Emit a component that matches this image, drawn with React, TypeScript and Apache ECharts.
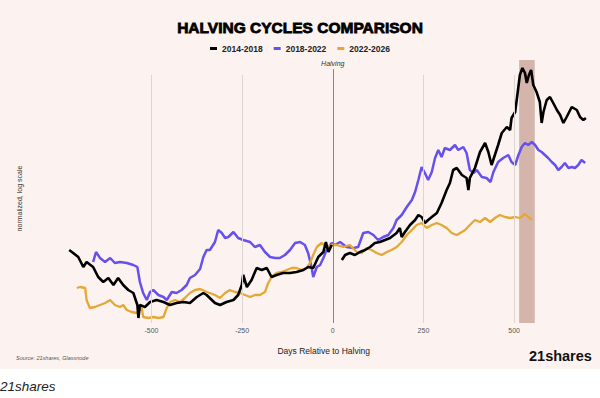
import React, { useEffect, useRef } from "react";
import * as echarts from "echarts";

// Days relative to halving, normalized value (log10, halving = 0)
const cycle2014: [number, number | string][] = [
  [-727, -0.07], [-716, -0.1], [-702, -0.14], [-688, -0.24], [-679, -0.19], [-661, -0.24],
  [-647, -0.34], [-633, -0.39], [-619, -0.35], [-605, -0.42], [-592, -0.35], [-578, -0.42],
  [-564, -0.47], [-550, -0.5], [-539, -0.62], [-536, -0.75], [-532, -0.62], [-518, -0.64],
  [-504, -0.59], [-486, -0.57], [-467, -0.59], [-449, -0.62], [-431, -0.6], [-412, -0.59],
  [-394, -0.6], [-375, -0.54], [-357, -0.5], [-348, -0.52], [-325, -0.6], [-311, -0.62],
  [-293, -0.59], [-274, -0.57], [-261, -0.52], [-251, -0.42], [-247, -0.32], [-237, -0.44],
  [-224, -0.37], [-210, -0.25], [-196, -0.27], [-182, -0.25], [-169, -0.34], [-155, -0.32],
  [-137, -0.3], [-118, -0.3], [-100, -0.29], [-81, -0.27], [-68, -0.24], [-54, -0.25],
  [-40, -0.14], [-26, -0.09], [-19, 0.01], [-12, -0.09], [-3, -0.02], [5, "-"],
  [25, -0.17], [34, -0.12], [47, -0.1], [61, -0.12], [75, -0.09], [89, -0.07], [103, -0.04],
  [116, 0.0], [130, 0.01], [144, 0.03], [158, 0.05], [176, 0.1], [185, 0.15], [190, 0.06],
  [199, 0.11], [213, 0.18], [227, 0.23], [236, 0.28], [245, 0.26], [254, 0.2], [263, 0.23],
  [273, 0.26], [287, 0.3], [300, 0.4], [314, 0.53], [323, 0.6], [332, 0.73], [342, 0.75],
  [356, 0.68], [369, 0.65], [374, 0.53], [378, 0.65], [392, 0.75], [406, 0.91], [420, 1.0],
  [429, 0.91], [438, 0.78], [447, 0.88], [456, 0.98], [466, 1.1], [480, 1.16], [489, 1.13],
  [493, 1.25], [503, 1.31], [509, 1.48], [516, 1.68], [523, 1.75], [530, 1.7], [535, 1.6],
  [541, 1.68], [547, 1.73], [553, 1.58], [562, 1.51], [571, 1.41], [576, 1.2], [581, 1.31],
  [590, 1.43], [599, 1.46], [608, 1.4], [618, 1.33], [627, 1.28], [636, 1.2], [645, 1.26],
  [659, 1.36], [673, 1.33], [682, 1.26], [691, 1.23], [698, 1.25],
];

const cycle2018: [number, number][] = [
  [-661, -0.19], [-653, -0.09], [-642, -0.15], [-628, -0.19], [-614, -0.15], [-601, -0.2],
  [-587, -0.19], [-568, -0.2], [-550, -0.22], [-539, -0.24], [-532, -0.39], [-523, -0.5],
  [-513, -0.57], [-504, -0.49], [-495, -0.47], [-481, -0.52], [-467, -0.54], [-458, -0.57],
  [-444, -0.49], [-431, -0.5], [-417, -0.47], [-403, -0.42], [-394, -0.35], [-380, -0.32],
  [-366, -0.26], [-357, -0.14], [-348, -0.07], [-339, -0.07], [-325, 0.01], [-316, 0.13],
  [-306, 0.1], [-297, 0.05], [-288, 0.06], [-274, 0.11], [-261, 0.05], [-247, 0.03],
  [-228, 0.01], [-215, -0.04], [-201, -0.02], [-187, -0.09], [-173, -0.14], [-159, -0.15],
  [-146, -0.15], [-132, -0.12], [-118, -0.07], [-104, 0.0], [-90, 0.01], [-77, -0.02],
  [-68, -0.1], [-58, -0.25], [-54, -0.34], [-44, -0.24], [-35, -0.22], [-26, -0.15],
  [-17, -0.07], [-3, 0.0], [6, -0.02], [20, 0.01], [38, -0.04], [57, -0.05], [70, -0.04],
  [84, 0.1], [98, 0.11], [112, 0.08], [125, 0.03], [139, 0.06], [153, 0.08], [167, 0.15],
  [176, 0.23], [190, 0.28], [204, 0.36], [218, 0.43], [227, 0.51], [236, 0.63], [245, 0.76],
  [254, 0.7], [263, 0.63], [273, 0.71], [282, 0.85], [291, 0.93], [300, 0.86], [309, 0.95],
  [323, 0.93], [337, 0.98], [346, 0.93], [360, 0.96], [369, 0.9], [378, 0.73], [388, 0.7],
  [397, 0.73], [411, 0.66], [424, 0.65], [435, 0.61], [443, 0.71], [456, 0.81], [470, 0.85],
  [484, 0.88], [493, 0.81], [503, 0.78], [512, 0.88], [521, 0.96], [530, 1.0], [539, 0.98],
  [549, 1.01], [558, 0.98], [567, 0.93], [576, 0.91], [585, 0.88], [594, 0.85], [604, 0.81],
  [613, 0.78], [622, 0.73], [631, 0.76], [640, 0.8], [650, 0.75], [659, 0.76], [668, 0.75],
  [677, 0.78], [686, 0.83], [696, 0.8],
];

const cycle2022: [number, number][] = [
  [-706, -0.45], [-697, -0.44], [-683, -0.45], [-679, -0.57], [-670, -0.65], [-656, -0.64],
  [-642, -0.62], [-628, -0.6], [-614, -0.57], [-601, -0.62], [-587, -0.64], [-578, -0.62],
  [-568, -0.67], [-555, -0.69], [-541, -0.7], [-527, -0.65], [-523, -0.74], [-509, -0.75],
  [-495, -0.74], [-481, -0.75], [-467, -0.74], [-458, -0.65], [-449, -0.59], [-435, -0.57],
  [-421, -0.59], [-408, -0.55], [-394, -0.5], [-380, -0.47], [-366, -0.46], [-348, -0.49],
  [-339, -0.5], [-325, -0.52], [-311, -0.55], [-297, -0.5], [-284, -0.47], [-270, -0.49],
  [-256, -0.5], [-242, -0.52], [-228, -0.54], [-215, -0.52], [-201, -0.52], [-187, -0.49],
  [-178, -0.4], [-169, -0.34], [-155, -0.3], [-141, -0.29], [-127, -0.27], [-113, -0.25],
  [-100, -0.25], [-86, -0.27], [-72, -0.25], [-63, -0.2], [-54, -0.12], [-44, -0.04],
  [-31, 0.0], [-17, -0.04], [-3, -0.02], [11, -0.02], [29, -0.04], [47, -0.02], [66, -0.09],
  [80, -0.1], [93, -0.05], [107, -0.07], [121, -0.1], [135, -0.12], [149, -0.09], [162, -0.07],
  [176, -0.04], [190, 0.01], [204, 0.08], [218, 0.13], [231, 0.18], [245, 0.2], [259, 0.15],
  [273, 0.18], [287, 0.2], [300, 0.18], [314, 0.15], [328, 0.1], [342, 0.08], [356, 0.11],
  [365, 0.13], [378, 0.18], [392, 0.23], [406, 0.21], [420, 0.25], [434, 0.21], [447, 0.25],
  [461, 0.28], [475, 0.26], [489, 0.25], [503, 0.26], [516, 0.25], [530, 0.29], [539, 0.26],
  [549, 0.23],
];

const seriesNames = ["2014-2018", "2018-2022", "2022-2026"];
const seriesColors = ["#000000", "#6650ee", "#e3a835"];
const dayTicks = [-500, -250, 0, 250, 500];
const gridLineDays = [-500, -250, 250, 500];
const halvingDay = 0;
const peakBand: [number, number] = [514, 557];

export default function App() {
  const ref = useRef<HTMLDivElement>(null);

  useEffect(() => {
    if (!ref.current) return;
    const chart = echarts.init(ref.current, null, { renderer: "svg" });
    const yMin = -0.8;
    const yMax = 1.83;

    const gridLines: any[] = gridLineDays.map((d) => [
      { coord: [d, 1.68], lineStyle: { color: "#dcd6d3", width: 1, type: "solid" }, label: { show: false } },
      { coord: [d, yMin] },
    ]);
    gridLines.push([
      {
        coord: [halvingDay, yMin],
        lineStyle: { color: "#8a8685", width: 1, type: "solid" },
        label: {
          show: true,
          position: "end",
          formatter: "Halving",
          fontStyle: "italic",
          fontSize: 7,
          color: "#333",
          distance: 2,
          fontFamily: "Liberation Sans",
        },
      },
      { coord: [halvingDay, 1.74] },
    ]);

    chart.setOption({
      animation: false,
      backgroundColor: "#ffffff",
      title: {
        text: "HALVING CYCLES COMPARISON",
        left: "center",
        top: 14,
        textStyle: {
          fontFamily: "Liberation Sans",
          fontWeight: "bold",
          fontSize: 15.5,
          color: "#000",
          textBorderColor: "#000",
          textBorderWidth: 0.8,
        },
      },
      legend: {
        data: seriesNames,
        top: 39,
        left: "center",
        icon: "rect",
        itemWidth: 7,
        itemHeight: 3,
        itemGap: 11,
        textStyle: { fontFamily: "Liberation Sans", fontWeight: "bold", fontSize: 8.5, color: "#222" },
      },
      grid: { left: 60.85, right: 13.4, top: 60, bottom: 75 },
      xAxis: {
        type: "value",
        min: -750,
        max: 700,
        interval: 250,
        name: "Days Relative to Halving",
        nameLocation: "middle",
        nameGap: 23,
        nameTextStyle: { fontFamily: "Liberation Sans", fontSize: 8.5, color: "#222" },
        axisLine: { show: false },
        axisTick: { show: false },
        splitLine: { show: false },
        axisLabel: {
          fontFamily: "Liberation Sans",
          fontSize: 7,
          color: "#555",
          margin: 4,
          formatter: (v: number) => (dayTicks.includes(v) ? String(v) : ""),
        },
      },
      yAxis: {
        type: "value",
        min: yMin,
        max: yMax,
        name: "normalized, log scale",
        nameLocation: "middle",
        nameRotate: 90,
        nameGap: 38,
        nameTextStyle: { fontFamily: "Liberation Sans", fontSize: 7, color: "#333", padding: [0, 0, 0, -14] },
        axisLine: { show: false },
        axisTick: { show: false },
        axisLabel: { show: false },
        splitLine: { show: false },
      },
      graphic: [
        {
          type: "rect",
          z: -10,
          silent: true,
          shape: { x: 0, y: 0, width: 600, height: 369 },
          style: { fill: "#fcf3f0" },
        },
        {
          type: "text",
          left: 16,
          top: 355,
          style: { text: "Source: 21shares, Glassnode", fontFamily: "Liberation Sans", fontStyle: "italic", fontSize: 5.5, fill: "#555" },
        },
        {
          type: "text",
          left: 529,
          top: 348,
          style: { text: "21shares", fontFamily: "Liberation Sans", fontWeight: "bold", fontSize: 14.5, fill: "#111" },
        },
        {
          type: "text",
          left: 0,
          top: 379,
          style: { text: "21shares", fontFamily: "Liberation Sans", fontStyle: "italic", fontSize: 13.5, fill: "#222" },
        },
      ],
      series: [
        {
          name: "gridlines",
          type: "line",
          data: [],
          z: 1,
          silent: true,
          markLine: { silent: true, symbol: ["none", "none"], data: gridLines },
        },
        {
          name: seriesNames[1],
          type: "line",
          data: cycle2018,
          showSymbol: false,
          color: seriesColors[1],
          lineStyle: { width: 2.5, color: seriesColors[1] },
          z: 2,
        },
        {
          name: seriesNames[2],
          type: "line",
          data: cycle2022,
          showSymbol: false,
          color: seriesColors[2],
          lineStyle: { width: 2.3, color: seriesColors[2] },
          z: 3,
        },
        {
          name: seriesNames[0],
          type: "line",
          data: cycle2014,
          showSymbol: false,
          connectNulls: false,
          color: seriesColors[0],
          lineStyle: { width: 2.6, color: seriesColors[0] },
          z: 4,
        },
        {
          name: "peak",
          type: "line",
          data: [],
          z: 10,
          silent: true,
          markArea: {
            silent: true,
            itemStyle: { color: "rgba(164,107,89,0.45)" },
            data: [[{ xAxis: peakBand[0] }, { xAxis: peakBand[1] }]],
          },
        },
      ],
    });
    return () => chart.dispose();
  }, []);

  return (
    <div
      ref={ref}
      style={{ position: "fixed", left: 0, top: 0, width: 600, height: 398 }}
    />
  );
}
